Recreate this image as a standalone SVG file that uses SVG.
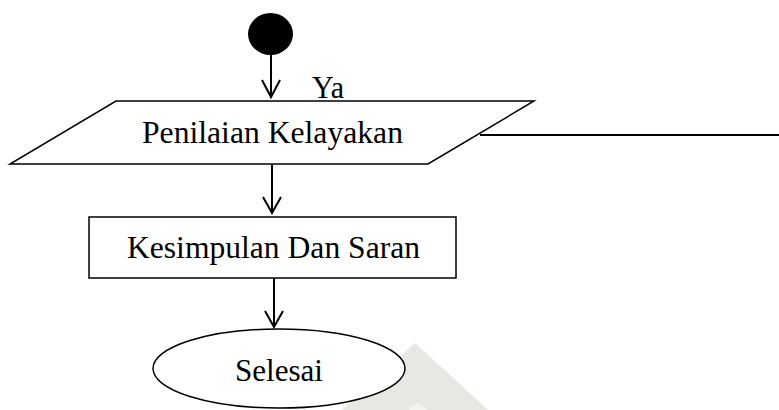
<svg xmlns="http://www.w3.org/2000/svg" width="779" height="410" viewBox="0 0 779 410">
<style>
.shape{fill:#fff;stroke:#000;stroke-width:1.5}
.lbl{font-family:"Liberation Serif","Times New Roman",serif;font-size:31.5px;fill:#000}
.conn line,.conn polyline{fill:none;stroke:#000;stroke-width:2}
</style>
<rect width="779" height="410" fill="#fff"/>
<g id="watermark">
<polygon points="415,343 488,410 342,410" fill="#e6e8e4"/>
<polygon points="418,403 428,410 408,410" fill="#f4f5f3"/>
</g>
<g id="start">
<ellipse cx="270.5" cy="34" rx="22.5" ry="21" fill="#000"/>
</g>
<g id="penilaian">
<polygon class="shape" points="116,101 534,101 428,164 10,164"/>
<text class="lbl" x="142" y="143" textLength="261" lengthAdjust="spacingAndGlyphs">Penilaian Kelayakan</text>
</g>
<g id="kesimpulan">
<rect class="shape" x="89" y="217" width="367" height="61"/>
<text class="lbl" x="127" y="258" textLength="293" lengthAdjust="spacingAndGlyphs">Kesimpulan Dan Saran</text>
</g>
<g id="selesai">
<ellipse class="shape" cx="279" cy="368.5" rx="126" ry="39.5"/>
<text class="lbl" x="235" y="381" textLength="88" lengthAdjust="spacingAndGlyphs">Selesai</text>
</g>
<g id="connectors" class="conn">
<line x1="271" y1="55" x2="271" y2="97"/>
<polyline points="262,80 271,97 280,80"/>
<text class="lbl" x="312" y="98" textLength="32" lengthAdjust="spacingAndGlyphs" font-size="29">Ya</text>
<line x1="272" y1="165" x2="272" y2="213"/>
<polyline points="263,197 272,213 281,197"/>
<line x1="274" y1="278" x2="274" y2="327"/>
<polyline points="265,311 274,327 283,311"/>
<line x1="480" y1="135" x2="779" y2="135" stroke="#222" stroke-width="2.5"/>
</g>
</svg>
